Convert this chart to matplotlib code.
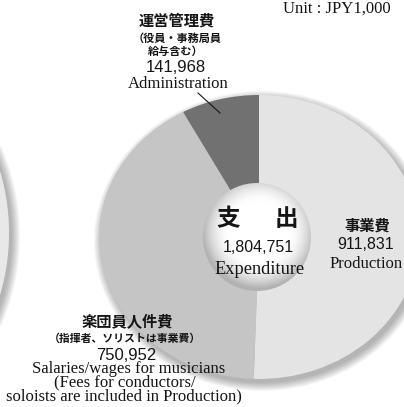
import numpy as np
import matplotlib
matplotlib.use('agg')
from matplotlib import pyplot as plt
from matplotlib.patches import Ellipse, Circle


# expenditure breakdown (unit: JPY1,000)
labels_jp = ['事業費', '楽団員人件費', '運営管理費']
labels_en = ['Production', 'Salaries/wages for musicians', 'Administration']
values = [911831, 750952, 141968]
total = 1804751
colors = ['#e4e4e4', '#c4c5c4', '#717171']

W, H = 404, 407
CJK = ['Noto Sans CJK JP', 'DejaVu Sans']
SANS = ['Liberation Sans', 'DejaVu Sans']
SERIF = ['Liberation Serif', 'DejaVu Serif']
INK = '#151515'

# pie geometry in pixels (the original is stretched horizontally)
cx, cy = 259, 237
rx, ry = 160, 142
hole_x, hole_y, hole_r = 257, 237, 54


def pixel_axes(fig, z):
    ax = fig.add_axes([0, 0, 1, 1], zorder=z)
    ax.set_xlim(0, W)
    ax.set_ylim(H, 0)
    ax.axis('off')
    return ax


def soft_shadow(ax, x, y, w, h, dx=3, dy=4, steps=9):
    for k in range(steps):
        ax.add_patch(Ellipse((x + dx, y + dy), w + 2 * k, h + 2 * k,
                             facecolor='black', edgecolor='none', alpha=0.035))


fig = plt.figure(figsize=(W / 100, H / 100), dpi=100)

# background: shadows and the neighbouring chart on the left
bg = pixel_axes(fig, 0)
soft_shadow(bg, -151, 233, 320, 376, dx=3, dy=3)
bg.add_patch(Ellipse((-151, 233), 320, 376, facecolor='#e8e8e8', edgecolor='none'))
soft_shadow(bg, cx, cy, 2 * rx, 2 * ry)

# the donut itself
pax = fig.add_axes([(cx - rx) / W, (H - (cy + ry)) / H, 2 * rx / W, 2 * ry / H], zorder=1)
pax.pie(values, colors=colors, startangle=90, counterclock=False,
        wedgeprops=dict(linewidth=0))
pax.set_aspect('auto')
pax.set_xlim(-1, 1)
pax.set_ylim(-1, 1)
pax.axis('off')

# overlay: centre disc with shading, labels
top = pixel_axes(fig, 2)
n = 240
yy, xx = np.mgrid[-1:1:n * 1j, -1:1:n * 1j]
rr = np.sqrt((xx - 0.04) ** 2 + (yy + 0.1) ** 2)
shade = 1 - 0.30 * np.clip((rr - 0.55) / 0.5, 0, 1) ** 1.8
img = np.dstack([shade, shade, shade])
im = top.imshow(img, extent=(hole_x - hole_r, hole_x + hole_r, hole_y + hole_r, hole_y - hole_r),
                origin='upper', aspect='auto', interpolation='bilinear')
im.set_clip_path(Circle((hole_x, hole_y), hole_r, transform=top.transData))

# leader line for administration
top.plot([198, 220], [93, 113], color=INK, lw=0.8)

top.text(391, 12.5, 'Unit : JPY1,000', family=SERIF, fontsize=12, ha='right', va='baseline', color=INK)

# administration
top.text(177, 21, labels_jp[2], family=CJK, weight='bold', fontsize=11, ha='center', va='center', color=INK)
top.text(177, 38, '（役員・事務局員', family=CJK, weight='bold', fontsize=8, ha='center', va='center', color=INK)
top.text(176, 51, '給与含む）', family=CJK, weight='bold', fontsize=8, ha='center', va='center', color=INK)
top.text(176, 71.5, f'{values[2]:,}', family=SANS, fontsize=12, ha='center', va='baseline', color=INK)
top.text(178, 87.5, labels_en[2], family=SERIF, fontsize=12, ha='center', va='baseline', color=INK)

# centre
top.text(228, 219, '支', family=CJK, weight='bold', fontsize=17, ha='center', va='center', color=INK)
top.text(286, 219, '出', family=CJK, weight='bold', fontsize=17, ha='center', va='center', color=INK)
top.text(258, 252, f'{total:,}', family=SANS, fontsize=11.5, ha='center', va='baseline', color=INK)
top.text(259.5, 274, 'Expenditure', family=SERIF, fontsize=13.2, ha='center', va='baseline', color=INK)

# production
top.text(367, 226, labels_jp[0], family=CJK, weight='bold', fontsize=11, ha='center', va='center', color=INK)
top.text(366, 249, f'{values[0]:,}', family=SANS, fontsize=11.5, ha='center', va='baseline', color=INK)
top.text(366, 267.5, labels_en[0], family=SERIF, fontsize=12, ha='center', va='baseline', color=INK)

# salaries
top.text(127, 321, labels_jp[1], family=CJK, weight='bold', fontsize=11, ha='center', va='center', color=INK)
top.text(125, 339, '（指揮者、ソリストは事業費）', family=CJK, weight='bold', fontsize=7.8,
         ha='center', va='center', color=INK)
top.text(126, 359.5, f'{values[1]:,}', family=SANS, fontsize=12, ha='center', va='baseline', color=INK)
top.text(129, 373, labels_en[1], family=SERIF, fontsize=12, ha='center', va='baseline', color=INK)
top.text(125, 386.5, '(Fees for conductors/', family=SERIF, fontsize=12, ha='center', va='baseline', color=INK)
top.text(124, 400, 'soloists are included in Production)', family=SERIF, fontsize=12,
         ha='center', va='baseline', color=INK)

fig.savefig('out.png', dpi=100, facecolor='white')
